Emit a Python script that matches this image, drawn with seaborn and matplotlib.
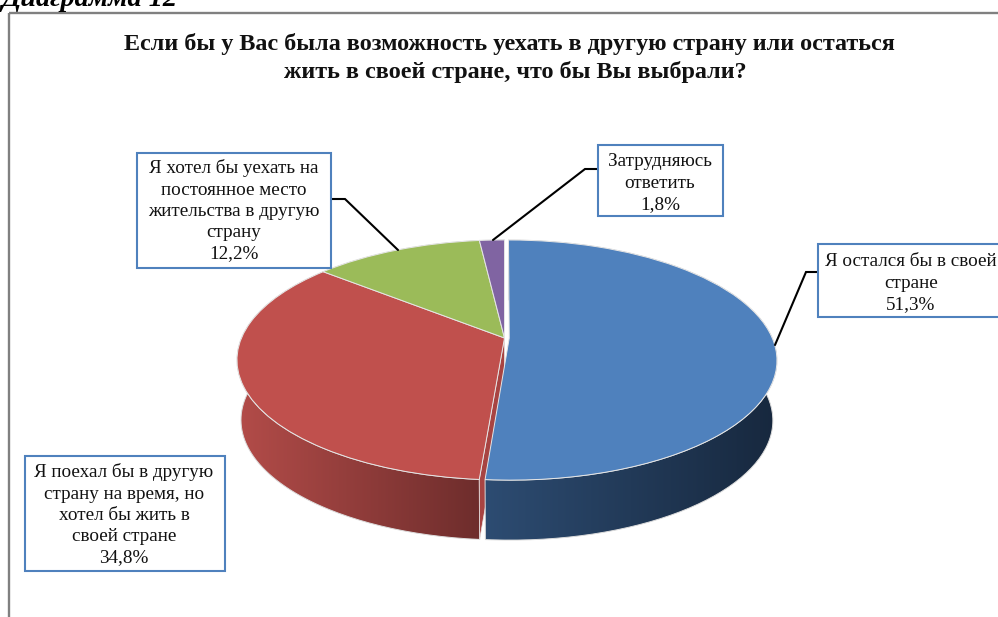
import numpy as np
import matplotlib
matplotlib.use("Agg")
import matplotlib.pyplot as plt
import matplotlib.transforms as mtransforms
from matplotlib.colors import LinearSegmentedColormap
from matplotlib.path import Path
from matplotlib.patches import PathPatch, Rectangle
import seaborn as sns

categories = ["Я остался бы в своей\nстране",
              "Я поехал бы в другую\nстрану на время, но\nхотел бы жить в\nсвоей стране",
              "Я хотел бы уехать на\nпостоянное место\nжительства в другую\nстрану",
              "Затрудняюсь\nответить"]
values = [51.3, 34.8, 12.2, 1.8]
title_lines = ["Если бы у Вас была возможность уехать в другую страну или остаться",
               "жить в своей стране, что бы Вы выбрали?"]
top_colors = ["#4f81bd", "#c0504d", "#9bbb59", "#8064a2"]
wall_colors = [("#2d4c72", "#17283e"), ("#b34c49", "#6e2d2c"),
               ("#7d9a47", "#5e7535"), ("#66508a", "#4e3d6a")]

sns.set_theme(style="white")
plt.rcParams["font.family"] = ["Liberation Serif", "DejaVu Serif"]

W, H = 998, 617
fig = plt.figure(figsize=(W / 100, H / 100), dpi=100)
ax = fig.add_axes([0, 0, 1, 1])

CX, CY, R, A, K = 504.5, 338.0, 263.0, 116.0, -0.183
DEPTH, SHRINK = 60.0, 0.985


def project(xy):
    xy = np.asarray(xy, dtype=float)
    u, v = xy[..., 0], -xy[..., 1]
    w = 1 + K * v
    return np.stack([CX + R * u / w, CY + A * v / w], axis=-1)


class Perspective(mtransforms.Transform):
    input_dims = 2
    output_dims = 2
    is_separable = False
    has_inverse = False

    def transform_non_affine(self, values):
        return project(values)


wedges, _ = ax.pie(values, startangle=90, counterclock=False, colors=top_colors,
                   explode=[0.018, 0, 0, 0],
                   wedgeprops=dict(edgecolor="#e6e6e6", linewidth=0.7, zorder=6))
ax.set_aspect("auto")
ax.set_xlim(0, W)
ax.set_ylim(H, 0)
ax.set_axis_off()
persp = Perspective() + ax.transData


def rim(w, n=160):
    t = np.radians(np.linspace(w.theta1, w.theta2, n))
    return project(np.stack([w.center[0] + np.cos(t), w.center[1] + np.sin(t)], axis=-1))


def lower(p):
    q = p.copy()
    q[..., 0] = CX + (q[..., 0] - CX) * SHRINK
    q[..., 1] += DEPTH
    return q


def draw_wall(w, cols, z):
    top = rim(w)
    poly = np.vstack([top, lower(top)[::-1], top[:1]])
    path = Path(poly)
    cmap = LinearSegmentedColormap.from_list("wall", cols)
    x0, x1 = poly[:, 0].min(), poly[:, 0].max()
    y0, y1 = poly[:, 1].min(), poly[:, 1].max()
    # gradient darkens towards the right of each slice
    im = ax.imshow(np.linspace(0, 1, 256)[None, :], extent=(x0, x1, y1, y0), aspect="auto",
                   cmap=cmap, zorder=z)
    im.set_clip_path(path, transform=ax.transData)
    ax.add_patch(PathPatch(path, facecolor="none", edgecolor="#dcdcdc", linewidth=0.7, zorder=z + 0.1))


for i in (3, 2, 1):
    wedges[i].set_transform(persp)
    draw_wall(wedges[i], wall_colors[i], 1)
wedges[0].set_transform(persp)

# cut face of the red slice, visible through the gap left by the pulled-out blue slice
red = wedges[1]
edge_top = rim(red)[-1]
centre = project(np.array(red.center))
face = np.array([centre, edge_top, lower(edge_top), lower(centre)])
ax.add_patch(plt.Polygon(face, closed=True, facecolor="#a84442", edgecolor="#e6e6e6",
                         linewidth=0.5, zorder=2))
draw_wall(wedges[0], wall_colors[0], 3)
ax.set_xlim(0, W)
ax.set_ylim(H, 0)

# chart frame (its right side runs off the picture)
ax.add_patch(Rectangle((9.5, 13), W + 20, H + 20, facecolor="none", edgecolor="#808080",
                       linewidth=1.7, zorder=0.5))

# cropped heading above the frame
ax.text(177, 5.5, "Диаграмма 12", ha="right", va="baseline", fontsize=20.3,
        fontweight="bold", fontstyle="italic", color="black", zorder=7)

ax.text(509, 44, title_lines[0], ha="center", va="center", fontsize=17.4,
        fontweight="bold", color="#111111", zorder=7)
ax.text(515, 72, title_lines[1], ha="center", va="center", fontsize=17.4,
        fontweight="bold", color="#111111", zorder=7)


def pct(v):
    return f"{v:.1f}".replace(".", ",") + "%"


boxes = [(818, 244, 1010, 317), (25, 456, 225, 571), (137, 153, 331, 268), (598, 145, 723, 216)]
text_x = [911, 124, 234, 660]
text_y = [283, 515, 211, 183]
leaders = [[(818, 272), (806, 272), (775, 345)], None,
           [(331, 199), (345, 199), (398, 250)],
           [(598, 169), (585, 169), (493, 240)]]

for name, v, (x0, y0, x1, y1), tx, ty, lead in zip(categories, values, boxes, text_x, text_y, leaders):
    if lead:
        xs, ys = zip(*lead)
        ax.plot(xs, ys, color="black", lw=1.5, zorder=7, solid_joinstyle="miter")
    ax.add_patch(Rectangle((x0, y0), x1 - x0, y1 - y0, facecolor="white", edgecolor="#4f81bd",
                           linewidth=1.5, zorder=8))
    ax.text(tx, ty, name + "\n" + pct(v), ha="center", va="center", fontsize=13.8,
            linespacing=1.33, color="#111111", zorder=9)

fig.savefig("out.png", dpi=100)
